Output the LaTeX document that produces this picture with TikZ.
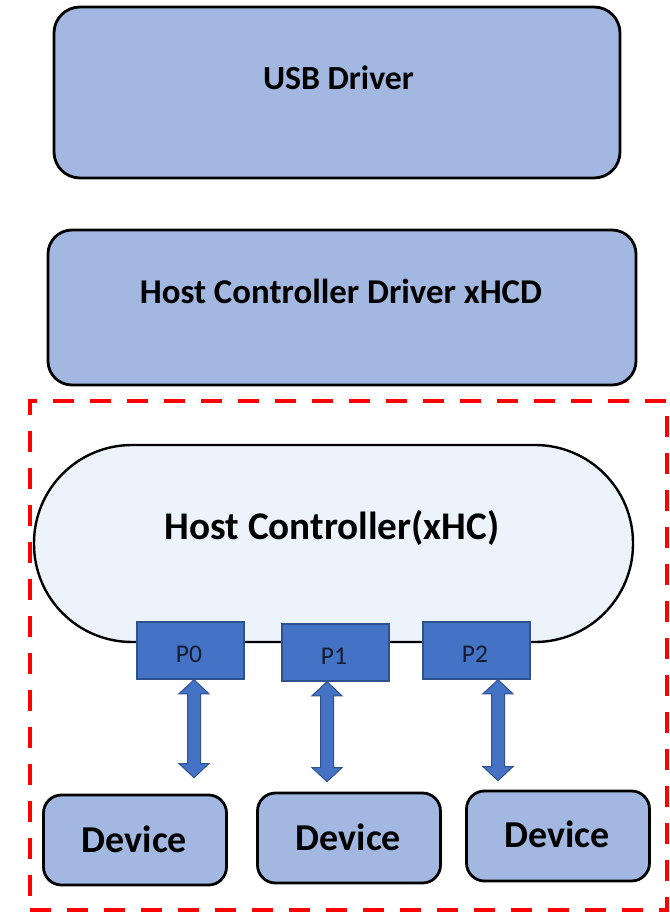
\documentclass[tikz,border=0pt]{standalone}
\usepackage{fontspec}
\setmainfont{Carlito}
\usetikzlibrary{calc}
\definecolor{boxfill}{RGB}{162,184,224}
\definecolor{hcfill}{RGB}{237,243,250}
\definecolor{portfill}{RGB}{68,114,196}
\definecolor{portline}{RGB}{47,82,143}
\definecolor{framered}{RGB}{255,0,0}
\definecolor{porttext}{RGB}{20,28,48}
\tikzset{
  layerbox/.style={draw=black, line width=2.8pt, fill=boxfill, rounded corners=26pt, inner sep=0pt},
  devbox/.style={draw=black, line width=2.8pt, fill=boxfill, rounded corners=18pt, inner sep=0pt, minimum width=183pt, minimum height=90pt},
  hcbox/.style={draw=black, line width=2.4pt, fill=hcfill, rounded corners=98pt, inner sep=0pt},
  portbox/.style={draw=portline, line width=1.5pt, fill=portfill, inner sep=0pt, minimum width=107pt, minimum height=57pt},
  framebox/.style={draw=framered, line width=3.5pt, dash pattern=on 21pt off 16pt, inner sep=0pt},
  bigtxt/.style={font=\bfseries\fontsize{33.8}{40}\selectfont, anchor=base, inner sep=0pt},
  hcdtxt/.style={font=\bfseries\fontsize{34.8}{41}\selectfont, anchor=base, inner sep=0pt},
  hctxt/.style={font=\bfseries\fontsize{39.2}{46}\selectfont, anchor=base, inner sep=0pt},
  devtxt/.style={font=\bfseries\fontsize{38}{45}\selectfont, anchor=base, inner sep=0pt},
  porttxt/.style={font=\fontsize{25.5}{30}\selectfont, text=porttext, anchor=base, inner sep=0pt},
  arrowst/.style={fill=portfill, draw=portline, line width=1pt, line join=miter}
}
\newcommand\biarrow[3]{%
  \filldraw[arrowst] let \p1=#1, \p2=#2 in
    (\x1,\y1) -- (\x1+15pt,\y1-14pt) -- (\x1+6.5pt,\y1-14pt) --
    (\x1+6.5pt,\y2+#3+14pt) -- (\x1+15pt,\y2+#3+14pt) -- (\x1,\y2+#3) --
    (\x1-15pt,\y2+#3+14pt) -- (\x1-6.5pt,\y2+#3+14pt) --
    (\x1-6.5pt,\y1-14pt) -- (\x1-15pt,\y1-14pt) -- cycle;}
\begin{document}
\begin{tikzpicture}[x=1pt,y=-1pt]
\useasboundingbox (0,0) rectangle (669,912);
% layers
\node[layerbox, minimum width=566pt, minimum height=171pt] (usb) at (337,92.5) {};
\node[bigtxt] (usbt) at (338.5,90) {USB Driver};
\node[layerbox, rounded corners=24pt, minimum width=588pt, minimum height=155pt] (hcd) at (342,307.5) {};
\node[hcdtxt] (hcdt) at (341,303) {Host Controller Driver xHCD};
% dashed frame
\node[framebox, minimum width=637pt, minimum height=509pt] (frame) at (348.5,655.5) {};
% host controller
\node[hcbox, minimum width=599pt, minimum height=197pt] (hc) at (333.5,543.5) {};
\node[hctxt] (hct) at (332,539) {Host Controller(xHC)};
% ports
\node[portbox] (p0) at (190.5,650.5) {};
\node[portbox] (p1) at (335.5,652.5) {};
\node[portbox] (p2) at (476.5,650.5) {};
\node[porttxt] (p0t) at (189,662) {P0};
\node[porttxt] (p1t) at (334,664) {P1};
\node[porttxt] (p2t) at (475,662) {P2};
% devices
\node[devbox] (d0) at (135,840) {};
\node[devbox] (d1) at (349,838) {};
\node[devbox] (d2) at (558,836) {};
\node[devtxt] (d0t) at (134.5,852) {Device};
\node[devtxt] (d1t) at (348.5,850) {Device};
\node[devtxt] (d2t) at (557,847) {Device};
% arrows
\biarrow{([xshift=3.5pt]p0.south)}{(d0.north)}{16pt}
\biarrow{([xshift=-8.5pt]p1.south)}{(d1.north)}{10pt}
\biarrow{([xshift=21.5pt]p2.south)}{(d2.north)}{9pt}
\end{tikzpicture}
\end{document}
